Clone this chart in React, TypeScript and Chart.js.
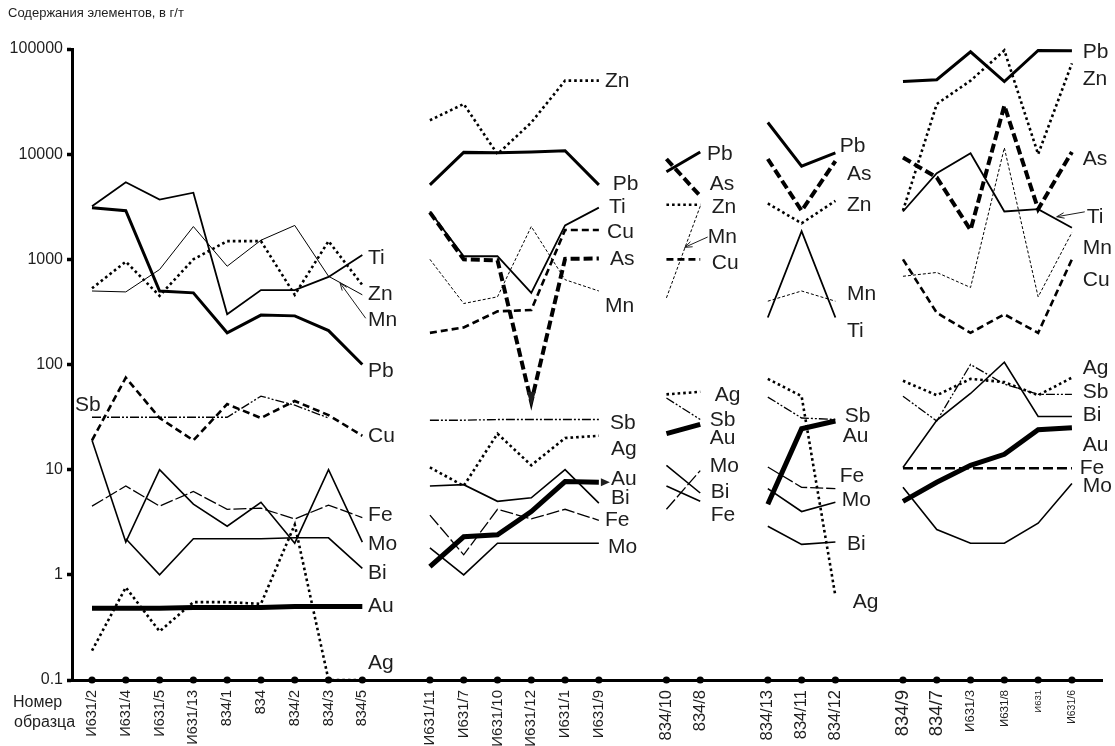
import React, { useEffect, useRef } from 'react';
import { Chart, registerables } from 'chart.js';

Chart.register(...registerables);

// ---- categories (x): samples, '' marks the gap between groups ----
const SAMPLES = [
  'И631/2', 'И631/4', 'И631/5', 'И631/13', '834/1', '834', '834/2', '834/3', '834/5', '',
  'И631/11', 'И631/7', 'И631/10', 'И631/12', 'И631/1', 'И631/9', '',
  '834/10', '834/8', '',
  '834/13', '834/11', '834/12', '',
  '834/9', '834/7', 'И631/3', 'И631/8', 'И631', 'И631/6',
];

// ---- y ticks ----
const Y_TICKS = [0.1, 1, 10, 100, 1000, 10000, 100000];
const Y_TICK_LABELS = ['0.1', '1', '10', '100', '1000', '10000', '100000'];

const _ = null;
// ---- series (g/t) ----
const PB = [3100, 2900, 500, 480, 200, 295, 290, 210, 100, _, 5100, 10400, 10300, 10500, 10800, 5100, _, 6800, 10500, _, 20000, 7700, 10300, _, 49000, 51000, 94000, 49000, 97000, 96000];
const TI = [3200, 5400, 3700, 4300, 300, 510, 510, 680, 1100, _, 2850, 1070, 1070, 480, 2100, 3100, _, _, _, _, 280, 1850, 280, _, 2850, 6600, 10200, 2850, 3000, 2000];
const MN = [500, 490, 800, 2050, 860, 1520, 2100, 690, 460, _, 1000, 380, 440, 2050, 640, 500, _, 430, 3200, _, 400, 500, 400, _, 690, 750, 540, 11500, 440, 1800];
const ZN = [530, 950, 450, 1000, 1490, 1490, 460, 1490, 570, _, 21000, 30000, 10000, 20000, 50000, 50000, _, 3300, 3300, _, 3400, 2200, 3600, _, 2900, 30000, 50000, 97000, 10000, 73000];
const CU = [19, 75, 31, 19, 42, 31, 45, 33, 21, _, 200, 225, 320, 330, 1900, 1900, _, 1000, 1000, _, _, _, _, _, 1000, 310, 200, 300, 200, 1000];
const AS = [_, _, _, _, _, _, _, _, _, _, 2800, 1000, 980, 44, 1010, 1020, _, 9000, 4000, _, 9000, 2900, 8600, _, 9300, 6000, 1900, 29000, 3000, 10500];
const SB = [31.5, 31.5, 31.5, 31.5, 31.5, 50, 41, 31, _, _, 29.5, 29.5, 30, 30, 30, 30, _, 48, 30, _, 49, 31, 30, _, 50, 29, 100, 65, 52, 52];
const AG = [0.19, 0.76, 0.29, 0.55, 0.55, 0.53, 3.0, 0.1, 0.1, _, 10.5, 7, 22, 11, 20, 21, _, 52, 55, _, 73, 50, 0.63, _, 70, 51, 73, 68, 51, 75];
const AU = [0.48, 0.48, 0.48, 0.49, 0.49, 0.49, 0.5, 0.5, 0.5, _, 1.2, 2.3, 2.4, 4.0, 7.7, 7.6, _, 22, 27, _, 4.7, 24.5, 29, _, 5, 7.6, 11, 14, 24, 25];
const BI = [_, 2.2, 1.0, 2.2, 2.2, 2.2, 2.25, 2.25, 1.15, _, 7, 7.2, 5, 5.4, 10, 4.8, _, 7, 5, _, 2.9, 1.95, 2.05, _, 10.5, 29.5, 53, 105, 32, 32];
const MO = [19, 2.05, 10, 4.7, 2.9, 4.9, 2.0, 10, 2.05, _, 1.8, 1.0, 2.0, 2.0, 2.0, 2.0, _, 11, 6, _, 6.6, 4.0, 4.9, _, 6.8, 2.7, 2.0, 2.0, 3.1, 7.4];
const FE = [4.5, 7, 4.5, 6.2, 4.2, 4.3, 3.4, 4.6, 3.5, _, 3.7, 1.55, 4.2, 3.4, 4.2, 3.3, _, 4.2, 9.8, _, 10.6, 6.8, 6.6, _, 10.3, 10.3, 10.3, 10.3, 10.3, 10.3];

// ---- element labels: [text, x (sample index), y (g/t)] ----
const ELEMENT_LABELS: [string, number, number][] = [
  ['Ti', 8.17, 1020], ['Zn', 8.17, 461], ['Mn', 8.17, 263], ['Pb', 8.17, 86], ['Cu', 8.17, 20.6],
  ['Fe', 8.17, 3.73], ['Mo', 8.17, 1.97], ['Bi', 8.17, 1.045], ['Au', 8.17, 0.5], ['Ag', 8.17, 0.146], ['Sb', -0.5, 40.7],
  ['Zn', 15.18, 49400], ['Pb', 15.41, 5150], ['Ti', 15.3, 3160], ['Cu', 15.24, 1820], ['As', 15.33, 1000], ['Mn', 15.18, 356],
  ['Sb', 15.33, 27.4], ['Ag', 15.36, 15.8], ['Au', 15.36, 8.2], ['Bi', 15.36, 5.3], ['Fe', 15.18, 3.34], ['Mo', 15.27, 1.85],
  ['Pb', 18.2, 10000], ['As', 18.28, 5150], ['Zn', 18.34, 3100], ['Mn', 18.22, 1630], ['Cu', 18.34, 918],
  ['Ag', 18.43, 50.7], ['Sb', 18.28, 29.3], ['Au', 18.28, 19.7], ['Mo', 18.28, 10.7], ['Bi', 18.31, 6.04], ['Fe', 18.31, 3.65],
  ['Pb', 22.13, 11860], ['As', 22.34, 6420], ['Zn', 22.34, 3300], ['Mn', 22.34, 461], ['Ti', 22.34, 208],
  ['Sb', 22.28, 32], ['Au', 22.22, 20.6], ['Fe', 22.13, 8.58], ['Mo', 22.19, 5.07], ['Bi', 22.34, 1.97], ['Ag', 22.51, 0.547],
  ['Pb', 29.32, 93800], ['Zn', 29.32, 51700], ['As', 29.32, 8950], ['Ti', 29.44, 2530], ['Mn', 29.32, 1275], ['Cu', 29.32, 637],
  ['Ag', 29.32, 91.6], ['Sb', 29.32, 54], ['Bi', 29.32, 32.7], ['Au', 29.32, 16.9], ['Fe', 29.23, 10.4], ['Mo', 29.32, 6.89],
];

// leader arrows: [x1, y1, x2 (head), y2 (head)]
const LEADERS: [number, number, number, number][] = [
  [8.1, 275, 7.34, 597],
  [18.22, 1630, 17.54, 1300],
  [29.38, 2830, 28.55, 2540],
];

// style tables (not data)
const X_LABEL_SIZES = [14.5, 14.5, 14.5, 14.5, 14.5, 14.5, 14.5, 14.5, 14.5, 0, 15, 15, 15, 15, 15, 15, 0, 16.5, 16.5, 0, 16.5, 16.5, 16.5, 0, 18.5, 18.5, 13, 11.5, 9.5, 10.5];
const FONT = 'Arial, "Liberation Sans", sans-serif';
const INK = '#1e1e1e';

const toXY = (arr: (number | null)[]) => arr.map((v, i) => ({ x: i, y: v }));

const annotationPlugin = {
  id: 'annotations',
  afterDatasetsDraw(chart: any) {
    const { ctx, scales } = chart;
    const xs = scales.x, ys = scales.y;
    const px = (v: number) => xs.getPixelForValue(v);
    const py = (v: number) => ys.getPixelForValue(v);
    ctx.save();
    ctx.fillStyle = INK;
    ctx.strokeStyle = INK;
    ctx.font = `21px ${FONT}`;
    ctx.textBaseline = 'middle';
    ctx.textAlign = 'left';
    for (const [t, xv, yv] of ELEMENT_LABELS) ctx.fillText(t, px(xv), py(yv));

    // leaders with open arrowheads
    ctx.lineWidth = 1;
    for (const [x1, y1, x2, y2] of LEADERS) {
      const ax = px(x1), ay = py(y1), bx = px(x2), by = py(y2);
      ctx.beginPath();
      ctx.moveTo(ax, ay);
      ctx.lineTo(bx, by);
      ctx.stroke();
      const ang = Math.atan2(by - ay, bx - ax);
      ctx.beginPath();
      ctx.moveTo(bx - 8 * Math.cos(ang - 0.35), by - 8 * Math.sin(ang - 0.35));
      ctx.lineTo(bx, by);
      ctx.lineTo(bx - 8 * Math.cos(ang + 0.35), by - 8 * Math.sin(ang + 0.35));
      ctx.stroke();
    }
    // filled arrow tips: Au end (group 2), As minimum (group 2)
    const auX = px(15) + 2, auY = py(AU[15] as number);
    ctx.beginPath();
    ctx.moveTo(auX + 9, auY);
    ctx.lineTo(auX, auY - 4);
    ctx.lineTo(auX, auY + 4);
    ctx.closePath();
    ctx.fill();
    const asX = px(13), asY = py(AS[13] as number);
    ctx.beginPath();
    ctx.moveTo(asX, asY + 4);
    ctx.lineTo(asX - 4.5, asY - 10);
    ctx.lineTo(asX + 4.5, asY - 10);
    ctx.closePath();
    ctx.fill();

    // headings
    ctx.font = `13px ${FONT}`;
    ctx.fillText('Содержания элементов, в г/т', 8, 13);
    ctx.font = `16px ${FONT}`;
    ctx.fillText('Номер', 13, 703);
    ctx.fillText('образца', 14, 723);
    ctx.restore();
  },
};

export default function App() {
  const ref = useRef<HTMLCanvasElement | null>(null);
  useEffect(() => {
    if (!ref.current) return;
    const line = (data: (number | null)[], width: number, dash: number[] = [], extra: any = {}) => ({
      type: 'line',
      data: toXY(data),
      borderColor: '#000',
      borderWidth: width,
      borderDash: dash,
      pointRadius: 0,
      tension: 0,
      spanGaps: false,
      clip: false,
      fill: false,
      ...extra,
    });
    const dots = SAMPLES.map((s, i) => (s ? { x: i, y: 0.1 } : null)).filter(Boolean);
    const chart = new Chart(ref.current, {
      type: 'line',
      data: {
        datasets: [
          line(FE, 1.3, [13, 3], { segment: { borderDash: (c: any) => (c.p0DataIndex >= 24 ? [10, 4] : undefined), borderWidth: (c: any) => (c.p0DataIndex >= 24 ? 2.6 : undefined) } }),
          line(MO, 1.6),
          line(BI, 1.6),
          line(SB, 1.3, [9, 2, 2, 2, 2, 2]),
          line(AG, 2.6, [2.6, 3]),
          line(AU, 5),
          line(MN, 1, [], { segment: { borderDash: (c: any) => (c.p0DataIndex >= 10 ? [3, 2] : undefined) } }),
          line(ZN, 2.6, [2.6, 3]),
          line(CU, 2.6, [7, 4]),
          line(TI, 1.8),
          line(AS, 4, [9, 4]),
          line(PB, 3),
          {
            type: 'line',
            data: dots as any,
            showLine: false,
            pointRadius: 3.6,
            pointBackgroundColor: '#000',
            pointBorderWidth: 0,
            clip: false,
          },
        ] as any,
      },
      options: {
        responsive: false,
        animation: false,
        devicePixelRatio: 1,
        layout: { padding: { left: 0, top: 49, right: 13, bottom: 0 } },
        plugins: { legend: { display: false }, tooltip: { enabled: false }, title: { display: false } },
        scales: {
          x: {
            type: 'linear',
            min: -0.592,
            max: 29.89,
            afterFit: (s: any) => { s.height = 66; },
            afterBuildTicks: (s: any) => {
              s.ticks = SAMPLES.map((l, i) => (l ? { value: i } : null)).filter(Boolean);
            },
            grid: { display: false, drawTicks: false },
            border: { display: true, color: '#000', width: 3 },
            ticks: {
              autoSkip: false,
              maxRotation: 90,
              minRotation: 90,
              padding: 10,
              color: INK,
              font: (c: any) => ({ family: FONT, size: X_LABEL_SIZES[c.tick ? c.tick.value : 0] || 14 }),
              callback: (v: any) => SAMPLES[Math.round(Number(v))] ?? '',
            },
          },
          y: {
            type: 'logarithmic',
            min: 0.1,
            max: 100000,
            afterFit: (s: any) => { s.width = 72; },
            afterBuildTicks: (s: any) => { s.ticks = Y_TICKS.map((v) => ({ value: v })); },
            grid: { display: true, drawOnChartArea: false, drawTicks: true, tickLength: 5, tickWidth: 3.5, tickColor: '#000', color: '#000' },
            border: { display: true, color: '#000', width: 3 },
            ticks: {
              padding: 4,
              color: INK,
              font: { family: FONT, size: 16 },
              callback: (v: any) => {
                const i = Y_TICKS.findIndex((t) => Math.abs(Math.log10(t) - Math.log10(Number(v))) < 1e-6);
                return i >= 0 ? Y_TICK_LABELS[i] : null;
              },
            },
          },
        },
      } as any,
      plugins: [annotationPlugin as any],
    });
    return () => chart.destroy();
  }, []);
  return (
    <div style={{ position: 'fixed', left: 0, top: 0, width: 1115, height: 746, background: '#fff' }}>
      <canvas ref={ref} width={1115} height={746} style={{ display: 'block', width: 1115, height: 746 }} />
    </div>
  );
}
